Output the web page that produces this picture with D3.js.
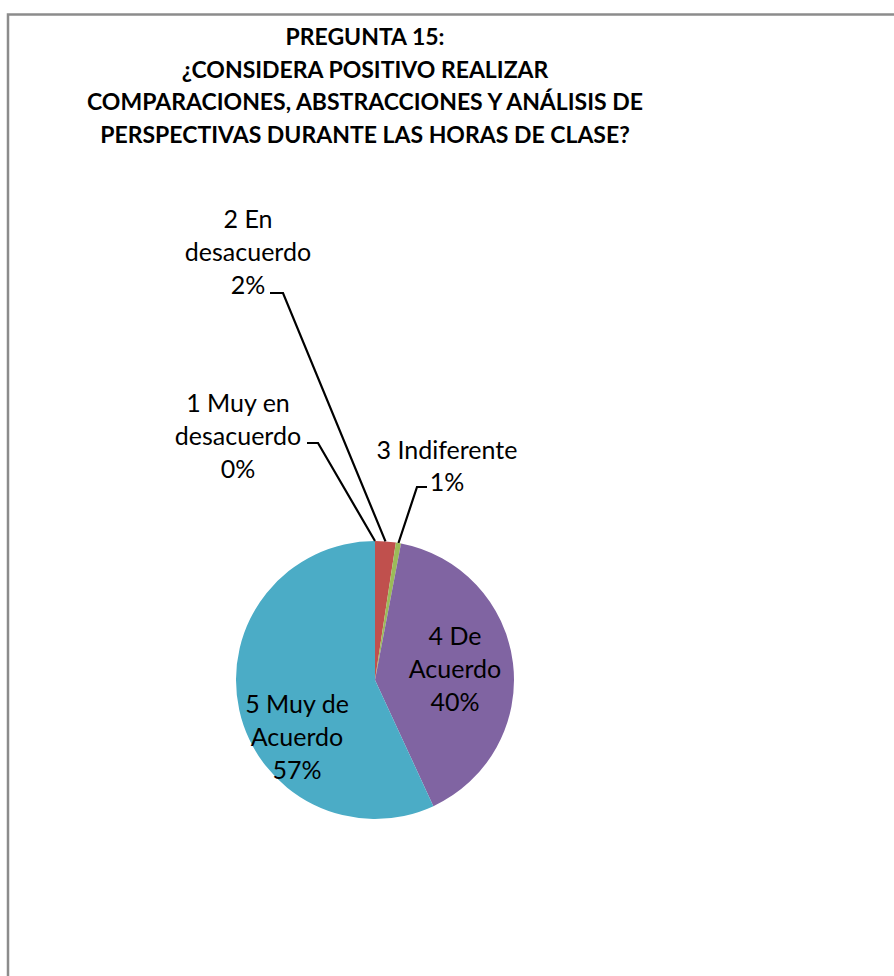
<!DOCTYPE html>
<html>
<head>
<title>Pregunta 15</title>
<style>
body { margin: 0; background: #fff; }
svg { display: block; }
</style>
<script type="text/javascript" src="https://d3js.org/d3.v7.min.js"></script>
</head>
<body>
<svg id="pie"></svg>
<script type="text/javascript">

const categories = ["1 Muy en desacuerdo", "2 En desacuerdo", "3 Indiferente", "4 De Acuerdo", "5 Muy de Acuerdo"];
const values = [0, 2.4, 0.6, 40.1, 56.9];
const percentLabels = ["0%", "2%", "1%", "40%", "57%"];
const colors = ["#4F81BD", "#C0504D", "#9BBB59", "#8064A2", "#4BACC6"];
const titleLines = ["PREGUNTA 15:", "¿CONSIDERA POSITIVO REALIZAR", "COMPARACIONES, ABSTRACCIONES Y ANÁLISIS DE", "PERSPECTIVAS DURANTE LAS HORAS DE CLASE?"];
// label text broken in lines as shown in the chart
const labelLines = [["1 Muy en", "desacuerdo"], ["2 En", "desacuerdo"], ["3 Indiferente"], ["4 De", "Acuerdo"], ["5 Muy de", "Acuerdo"]];

const W = 894, H = 976;
const CX = 375, CY = 680, R = 139;
const FONT = "Lato, 'Open Sans', sans-serif";
const LINE_H = 32.7;

// label placement (centre of text block) relative to pie centre; outside labels get a leader line
const labelPos = [
    { dx: -137, dy: -243, out: true, elbow: [-57, -237], end: -68 },
    { dx: -127, dy: -427, out: true, elbow: [-92, -387], end: -105 },
    { dx: 72, dy: -213, out: true, elbow: [42, -193], end: 52 },
    { dx: 80, dy: -10, out: false },
    { dx: -78, dy: 58, out: false }
];

const svg = d3.select("#pie").attr("width", W).attr("height", H);

svg.append("rect")
    .attr("x", 8).attr("y", 14.5)
    .attr("width", W).attr("height", H)
    .attr("fill", "none").attr("stroke", "#8c8c8c").attr("stroke-width", 2.5);

svg.append("g").selectAll("text")
    .data(titleLines)
    .enter().append("text")
    .attr("x", 365)
    .attr("y", (d, i) => 45 + i * 32.7)
    .attr("text-anchor", "middle")
    .style("font-family", FONT)
    .style("font-weight", "bold")
    .style("font-size", "23px")
    .text(d => d);

const pieData = d3.pie().sort(null).value(d => d)(values);
const genArc = d3.arc().innerRadius(0).outerRadius(R);

const g = svg.append("g").attr("transform", `translate(${CX}, ${CY})`);

g.selectAll("path")
    .data(pieData)
    .enter().append("path")
    .attr("d", genArc)
    .attr("fill", (d, i) => colors[i]);

// leader lines
pieData.forEach((d, i) => {
    const p = labelPos[i];
    if (!p.out) return;
    const mid = (d.startAngle + d.endAngle) / 2;
    const start = [R * Math.sin(mid), -R * Math.cos(mid)];
    g.append("polyline")
        .attr("points", [start, p.elbow, [p.end, p.elbow[1]]].map(q => q.join(",")).join(" "))
        .attr("fill", "none")
        .attr("stroke", "#000")
        .attr("stroke-width", 2.2);
});

const lab = g.selectAll("g.lab")
    .data(pieData)
    .enter().append("g")
    .attr("class", "lab")
    .attr("transform", (d, i) => `translate(${labelPos[i].dx}, ${labelPos[i].dy})`);

lab.each(function(d, i) {
    const lines = labelLines[i].concat([percentLabels[i]]);
    const t = d3.select(this).append("text")
        .attr("text-anchor", "middle")
        .style("font-family", FONT)
        .style("font-size", "25px")
        .attr("fill", "#000");
    t.selectAll("tspan")
        .data(lines)
        .enter().append("tspan")
        .attr("x", 0)
        .attr("y", (l, j) => (j - (lines.length - 1) / 2) * LINE_H + 8)
        .text(l => l);
});

</script>
</body>
</html>
